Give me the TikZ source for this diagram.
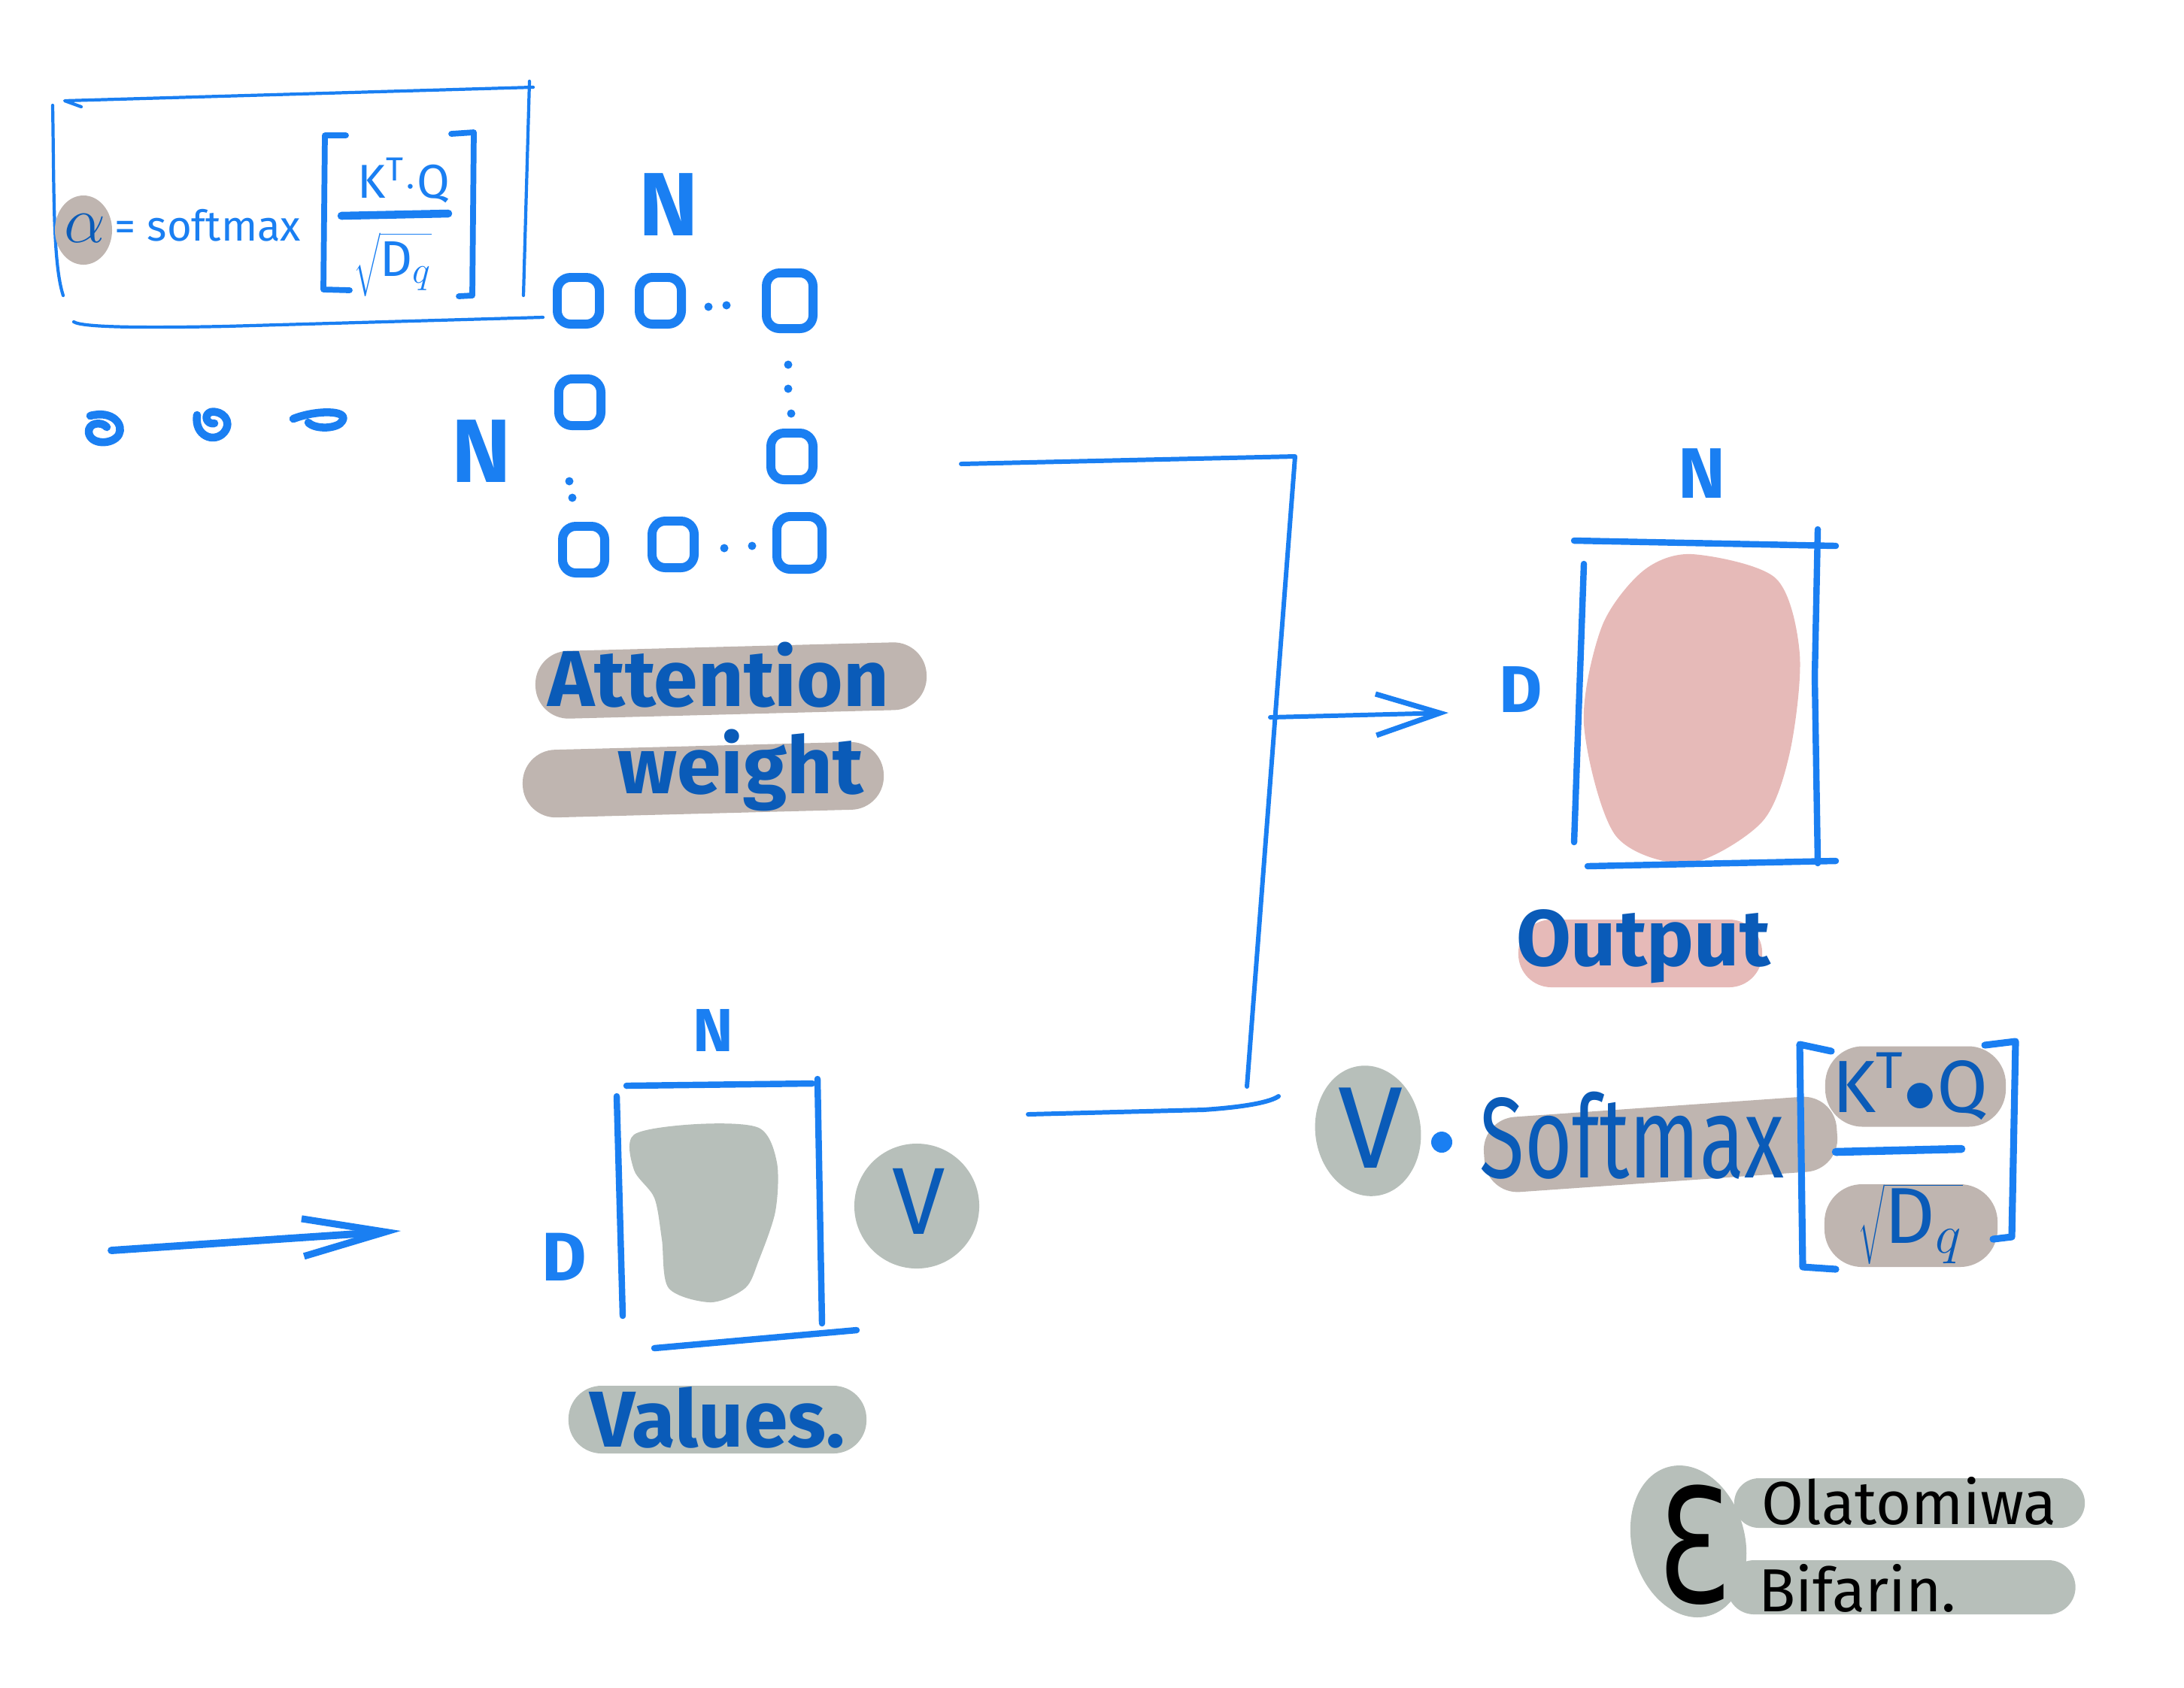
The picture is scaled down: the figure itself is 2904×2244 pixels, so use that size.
\documentclass[tikz,border=0pt]{standalone}
\usepackage{fontspec}
\usepackage{graphicx}
\setmainfont{Fira Sans}
\newfontfamily\symfont{DejaVu Sans}
\usetikzlibrary{arrows.meta, positioning, shapes.geometric}

\definecolor{penblue}{HTML}{1A7FF2}
\definecolor{inkblue}{HTML}{0A5BB8}
\definecolor{mudgray}{HTML}{BFB5B0}
\definecolor{sagegray}{HTML}{B7BFBA}
\definecolor{blushpink}{HTML}{E6BAB8}

\begin{document}
\begin{tikzpicture}[
    x=0.01cm, y=-0.01cm,
    wire/.style={draw=penblue, line width=1.7pt, line cap=round, line join=round},
    matframe/.style={draw=penblue, line width=2.4pt, line cap=round},
    thinline/.style={draw=penblue, line width=1.2pt, line cap=round, line join=round},
    cell/.style={draw=penblue, line width=3.4pt, rounded corners=5pt, minimum width=0.56cm, minimum height=0.62cm, inner sep=0pt},
    smalldot/.style={circle, fill=penblue, inner sep=0pt, minimum size=0.11cm},
    dimlbl/.style={text=penblue, font=\bfseries\fontsize{#1}{#1}\selectfont, inner sep=0pt},
    dimlbl/.default=27,
    hiband/.style={fill=#1, rounded corners=0.44cm, minimum height=0.9cm, inner sep=0pt},
    softblob/.style={fill=#1, ellipse, inner sep=0pt},
    hand/.style={text=inkblue, font=\bfseries\fontsize{30}{32}\selectfont, inner sep=0pt},
    barb/.style={-{Straight Barb[length=0.85cm, width=0.55cm, line width=2pt]}}
]
\useasboundingbox (0,0) rectangle (2904,2244);

% formula box
\draw[thinline] (108,142) -- (86,134) -- (709,116);
\draw[thinline] (704,108) -- (700,250) -- (696,393);
\draw[thinline] (70,140) .. controls (72,250) and (70,350) .. (84,393);
\draw[thinline] (98,428) .. controls (110,436) and (200,436) .. (300,434) -- (722,422);
\node[softblob=mudgray, minimum width=0.76cm, minimum height=0.92cm] (alphablob) at (111,306) {};
\node[text=inkblue, font=\fontsize{26}{26}\selectfont, inner sep=0pt] (alpha) at (113,304) {$\alpha$};
\node[text=penblue, font=\fontsize{16}{18}\selectfont, anchor=west, inner sep=0pt] (softtxt) at (152,300) {= softmax};
\draw[wire, line width=2.2pt] (460,180) -- (432,180) -- (430,385) -- (465,386);
\draw[wire, line width=2.2pt] (600,178) -- (630,176) -- (628,393) -- (610,394);
\node[text=penblue, font=\fontsize{18}{20}\selectfont, inner sep=0pt] (ktq) at (537,240) {K\textsuperscript{T}$\cdot$Q};
\draw[wire, line width=3pt] (454,287) -- (596,284);
\node[text=penblue, font=\fontsize{19}{21}\selectfont, inner sep=0pt] (sqd) at (522,352) {$\sqrt{\mathrm{D}_q}$};

% three squiggles
\draw[wire, line width=3pt] (120,553) .. controls (150,545) and (165,565) .. (158,578) .. controls (150,592) and (120,592) .. (118,575) .. controls (117,562) and (135,560) .. (142,568);
\draw[wire, line width=3pt] (262,552) .. controls (258,580) and (285,590) .. (298,575) .. controls (310,560) and (295,545) .. (280,548) .. controls (270,552) and (275,565) .. (285,563);
\draw[wire, line width=3pt] (390,557) .. controls (420,545) and (465,545) .. (455,560) .. controls (450,570) and (420,572) .. (410,562);

% attention weights
\node[cell] (a11) at (769,400) {};
\node[cell] (a12) at (878,400) {};
\node[cell, minimum width=0.62cm, minimum height=0.74cm] (a1n) at (1050,400) {};
\node[cell] (a21) at (771,535) {};
\node[cell] (a2n) at (1053,607) {};
\node[cell] (a31) at (776,731) {};
\node[cell] (a32) at (895,724) {};
\node[cell, minimum width=0.6cm, minimum height=0.7cm] (a3n) at (1063,722) {};
\foreach \p [count=\i] in {(942,408),(966,406),(1048,485),(1048,517),(1052,550),(757,640),(761,662),(963,729),(1000,726)}
  \node[smalldot] (dt\i) at \p {};
\node[dimlbl=34] (attnN) at (889,272) {N};
\node[dimlbl=34] (attnNl) at (640,600) {N};
\node[hiband=mudgray, minimum width=5.2cm, rotate=1.5] (attnbandA) at (972,905) {};
\node[hiband=mudgray, minimum width=4.8cm, rotate=1.5] (attnbandB) at (935,1037) {};
\node[hand] (attnlblA) at (955,898) {Attention};
\node[hand] (attnlblB) at (985,1024) {weight};

% output
\fill[blushpink] plot[smooth cycle] coordinates {(2250,737) (2361,769) (2393,870) (2380,1000) (2343,1093) (2246,1148) (2148,1111) (2106,963) (2130,833) (2185,759)};
\draw[matframe] (2093,719) -- (2441,726);
\draw[matframe] (2417,704) -- (2413,900) -- (2417,1148);
\draw[matframe] (2106,750) -- (2093,1120);
\draw[matframe] (2111,1152) -- (2441,1145);
\node[dimlbl] (outN) at (2263,630) {N};
\node[dimlbl=25] (outD) at (2022,917) {D};
\node[hiband=blushpink, minimum width=3.24cm] (outband) at (2181,1268) {};
\node[hand] (outlbl) at (2185,1259) {Output};

% values
\fill[sagegray] plot[smooth cycle] coordinates {(843,1509) (926,1495) (1009,1500) (1033,1546) (1031,1611) (1009,1676) (991,1713) (945,1732) (889,1713) (880,1648) (870,1593) (843,1556)};
\draw[matframe] (833,1444) -- (1080,1441);
\draw[matframe] (1087,1435) -- (1093,1760);
\draw[matframe] (820,1458) -- (828,1750);
\draw[matframe] (870,1793) -- (1139,1769);
\node[dimlbl=23] (valN) at (948,1370) {N};
\node[dimlbl=26] (valD) at (750,1672) {D};
\node[softblob=sagegray, minimum size=1.66cm] (vblobA) at (1219,1604) {};
\node[text=inkblue, font=\fontsize{36}{36}\selectfont] (vA) at (1222,1598) {V};
\node[hiband=sagegray, minimum width=3.96cm] (valband) at (954,1888) {};
\node[hand] (vallbl) at (954,1885) {Values.};

% V . softmax formula
\node[softblob=sagegray, minimum width=1.4cm, minimum height=1.74cm, rotate=8] (vblobB) at (1819,1504) {};
\node[text=inkblue, font=\fontsize{44}{44}\selectfont] (vB) at (1822,1500) {V};
\node[circle, fill=penblue, minimum size=0.28cm, inner sep=0pt] (muldot) at (1917,1519) {};
\node[hiband=mudgray, minimum width=4.7cm, minimum height=1.0cm, rotate=4] (smband) at (2208,1522) {};
\node[text=inkblue, font=\fontsize{31}{31}\selectfont] (smtxt) at (2170,1510) {\scalebox{1}[1.4]{Softmax}};
\node[hiband=mudgray, minimum width=2.4cm, minimum height=1.07cm, rounded corners=0.5cm] (kqband) at (2547,1445) {};
\node[text=inkblue, font=\fontsize{28}{28}\selectfont] (kqtxt) at (2540,1445) {K\textsuperscript{T}$\bullet$Q};
\draw[wire, line width=3pt] (2441,1532) -- (2608,1528);
\node[hiband=mudgray, minimum width=2.3cm, minimum height=1.1cm, rounded corners=0.5cm] (sqband) at (2541,1630) {};
\node[text=inkblue, font=\fontsize{30}{30}\selectfont] (sqtxt) at (2540,1628) {$\sqrt{\mathrm{D}_q}$};
\draw[wire, line width=2.6pt] (2435,1398) -- (2393,1389) -- (2397,1685) -- (2441,1688);
\draw[wire, line width=2.6pt] (2639,1390) -- (2680,1385) -- (2675,1645) -- (2650,1648);

% connectors
\coordinate (attnR) at (1278,617);
\coordinate (jTop) at (1722,607);
\coordinate (jBot) at (1658,1445);
\coordinate (jMid) at (1689,954);
\coordinate (outIn) at (1926,948);
\coordinate (valR) at (1367,1482);
\coordinate (valJ) at (1700,1458);
\coordinate (inL) at (148,1663);
\coordinate (inR) at (533,1637);
\draw[wire] (attnR) -- (jTop) -- (jBot);
\draw[wire] (valR) -- (1600,1476) .. controls (1660,1472) and (1690,1465) .. (valJ);
\draw[wire, barb] (jMid) -- (outIn);
\draw[wire, line width=2.8pt, -{Straight Barb[length=1.1cm, width=0.5cm, line width=2.6pt]}] (inL) -- (inR);

% signature
\node[softblob=sagegray, minimum width=1.5cm, minimum height=2.05cm, rotate=15] (sigblob) at (2245,2050) {};
\node[hiband=sagegray, minimum width=4.66cm, minimum height=0.66cm, rounded corners=0.33cm] (sigbandA) at (2539,1999) {};
\node[hiband=sagegray, minimum width=4.63cm, minimum height=0.72cm, rounded corners=0.36cm] (sigbandB) at (2528,2111) {};
\node[font=\symfont\fontsize{60}{60}\selectfont, inner sep=0pt] (sigE) at (2252,2055) {\scalebox{0.75}[1]{Ɛ}};
\node[font=\fontsize{23}{23}\selectfont, anchor=west, inner sep=0pt] (sigA) at (2342,1996) {Olatomiwa};
\node[font=\fontsize{23}{23}\selectfont, anchor=west, inner sep=0pt] (sigB) at (2338,2112) {Bifarin.};
\end{tikzpicture}
\end{document}
